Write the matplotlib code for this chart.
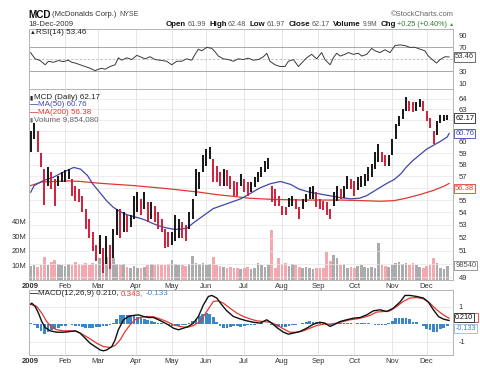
import matplotlib
matplotlib.use("Agg")
import matplotlib.pyplot as plt
from matplotlib import transforms as mtrans
from matplotlib.patches import Rectangle
from matplotlib.ticker import NullLocator

plt.rcParams['font.family'] = ['Liberation Sans', 'DejaVu Sans']

# ---------------- data ----------------
month_days = [0, 20, 39, 61, 82, 102, 124, 146, 167, 188, 210, 230]
month_labels = ["2009", "Feb", "Mar", "Apr", "May", "Jun", "Jul", "Aug", "Sep", "Oct", "Nov", "Dec"]

bar_days = list(range(0, 243, 2))
bar_high = [61.0, 61.75, 60.95, 59.0, 57.6, 57.75, 57.35, 56.75, 57.05, 57.35,
            57.5, 57.6, 56.75, 56.2, 55.9, 55.35, 54.3, 53.5, 52.45, 51.45,
            52.2, 51.2, 52.1, 51.45, 52.7, 54.3, 54.3, 54.0, 53.75, 53.75,
            55.35, 55.65, 55.1, 55.65, 54.8, 54.8, 54.55, 54.0, 53.5, 52.7,
            52.45, 52.45, 53.75, 53.5, 53.2, 52.95, 54.0, 55.1, 57.6, 57.35,
            58.8, 59.4, 59.55, 58.5, 57.9, 57.35, 57.6, 57.5, 57.05, 56.6,
            56.5, 57.2, 56.75, 56.5, 56.5, 56.9, 57.35, 57.75, 58.35, 58.55,
            56.2, 55.9, 55.35, 54.55, 54.4, 55.2, 55.35, 55.1, 54.4, 55.1,
            55.5, 56.05, 56.2, 55.65, 55.1, 54.95, 54.8, 54.3, 55.65, 56.2,
            55.9, 56.2, 57.05, 56.75, 56.6, 56.9, 57.05, 57.2, 57.75, 58.05,
            59.1, 59.85, 59.1, 58.8, 58.8, 60.3, 61.6, 62.35, 63.0, 64.15,
            63.8, 63.65, 63.65, 64.0, 63.8, 62.85, 62.2, 60.95, 61.9, 62.5,
            62.5, 62.48]
bar_low = [59.1, 60.3, 59.1, 57.8, 54.6, 56.2, 55.9, 54.55, 56.2, 56.5,
           56.5, 56.75, 55.35, 54.95, 54.8, 54.0, 52.7, 51.95, 50.95, 50.2,
           50.7, 49.3, 49.95, 49.6, 50.45, 52.2, 51.95, 52.45, 52.45, 52.85,
           53.5, 54.0, 53.75, 54.3, 53.2, 53.5, 53.2, 52.7, 52.45, 51.2,
           51.3, 51.45, 51.7, 51.95, 51.95, 51.7, 52.7, 53.5, 55.35, 55.9,
           57.35, 57.9, 58.5, 56.5, 56.5, 56.2, 56.2, 56.2, 55.9, 55.35,
           55.35, 56.2, 55.65, 55.35, 55.65, 56.05, 56.5, 56.9, 57.35, 57.6,
           54.8, 54.55, 54.55, 53.75, 53.75, 54.4, 54.55, 54.3, 53.5, 54.3,
           54.8, 55.1, 55.1, 54.4, 54.3, 54.15, 53.75, 53.5, 54.55, 54.95,
           55.1, 55.2, 55.9, 55.9, 55.35, 55.8, 56.05, 56.2, 56.6, 56.9,
           57.6, 58.2, 58.2, 57.9, 57.9, 58.8, 60.3, 61.4, 62.05, 62.85,
           62.85, 62.7, 62.85, 63.2, 62.85, 61.9, 61.25, 59.85, 60.6, 61.75,
           61.9, 61.97]
volume_m = [9.5, 10, 9, 10.5, 16, 10, 12.5, 13.5, 11, 10,
            9.5, 11, 10, 12.5, 11, 10.5, 11.5, 10, 12, 11,
            15, 12, 16, 12, 15, 11, 10.5, 11, 9, 8.5,
            9.5, 8.5, 8, 9, 10, 11, 10, 11, 10, 10.5,
            11, 14, 11, 10, 10.5, 9.5, 11, 16.5, 12, 11,
            12, 10.5, 11, 16, 10, 9.5, 9, 8.5, 9, 8,
            8.5, 7.5, 8, 9, 7.5, 8.5, 12, 10, 9, 10,
            34.5, 8.5, 15, 11, 12, 9.5, 11, 10, 9, 8.5,
            9, 8, 7.5, 8, 8.5, 8, 19, 13, 17.5, 15,
            10, 11, 8, 9, 8.5, 9.5, 10, 9, 8.5, 9,
            8.5, 25.5, 10, 9.5, 9, 10, 11.5, 12.5, 11, 12,
            10, 11.5, 10, 9, 8.5, 9.5, 10.5, 15.5, 12, 8.5,
            7.5, 9.85]

ma50_days = [0, 2, 7, 13, 19, 25, 29, 33, 36, 40, 44, 48, 52, 56, 60, 64, 67, 71, 75, 79,
             83, 87, 91, 94, 98, 102, 106, 110, 114, 118, 122, 127, 133, 139, 145, 151, 156, 162, 168, 174,
             180, 186, 191, 195, 199, 203, 207, 211, 215, 218, 222, 226, 230, 234, 238, 242, 243]
ma50_vals = [55.65, 56.2, 56.6, 56.9, 57.35, 57.75, 57.6, 57.05, 56.35, 55.65,
             54.95, 54.4, 54.05, 53.8, 53.65, 53.5, 53.35, 53.1, 52.9, 52.75,
             52.65, 52.65, 52.75, 53.1, 53.5, 53.9, 54.3, 54.5, 54.7, 54.9,
             55.1, 55.5, 56.0, 56.35, 56.55, 56.3, 55.9, 55.65, 55.5, 55.35,
             55.2, 55.1, 55.15, 55.35, 55.7, 56.05, 56.4, 56.7, 57.2, 57.75,
             58.35, 58.85, 59.35, 59.7, 60.05, 60.45, 60.76]
ma200_days = [0, 6, 22, 29, 40, 60, 79, 98, 108, 118, 127, 141, 160, 180, 193, 203, 211, 218, 226, 234, 240, 243]
ma200_vals = [56.2, 56.5, 56.6, 56.55, 56.4, 56.2, 55.95, 55.65, 55.45, 55.3, 55.15,
              55.05, 55.0, 55.0, 54.95, 54.9, 54.95, 55.15, 55.45, 55.8, 56.15, 56.38]

rsi_days = [0, 0.6, 2.6, 5.5, 8.4, 10.3, 13.2, 16.1, 19.0, 21.9, 23.9, 25.8, 28.7, 31.6, 34.5,
            37.4, 39.3, 41.3, 43.2, 46.1, 49.0, 50.9, 52.9, 55.8, 58.7, 61.6, 63.5, 66.4, 69.3,
            72.2, 75.1, 79.0, 81.9, 84.8, 87.7, 90.6, 93.5, 95.5, 97.4, 99.3, 102.3, 105.2,
            107.1, 109.0, 111.9, 114.8, 117.7, 120.6, 123.5, 126.4, 129.3, 132.3, 135.2, 137.1,
            139.0, 141.9, 144.8, 147.7, 149.7, 152.6, 155.5, 157.4, 160.3, 163.2, 166.1, 169.0,
            170.9, 173.9, 175.8, 177.7, 179.7, 182.6, 184.5, 187.4, 190.3, 192.3, 195.2, 198.1,
            200.0, 202.9, 205.8, 208.7, 211.6, 214.5, 217.4, 220.3, 223.2, 226.1, 229.0, 231.0,
            233.9, 235.8, 237.8, 240.7, 243.0]
rsi_vals = [60.7, 57.8, 50.3, 47.4, 40.4, 46.2, 44.5, 47.4, 45.7, 48.0, 44.5, 43.3, 40.4, 37.5, 34.6,
            30.6, 32.9, 34.6, 32.9, 37.5, 40.4, 52.0, 48.0, 52.0, 49.1, 56.1, 53.8, 50.3, 53.8,
            49.1, 48.0, 46.2, 40.4, 46.2, 46.2, 50.3, 48.0, 57.8, 66.5, 63.6, 69.4, 67.7,
            61.9, 54.9, 50.3, 49.1, 46.2, 50.3, 49.1, 51.4, 48.0, 49.1, 53.8, 59.6,
            46.2, 40.4, 37.5, 37.5, 46.2, 49.1, 37.5, 43.3, 52.0, 57.8, 50.3, 60.7,
            49.1, 40.4, 52.0, 59.6, 54.9, 57.8, 60.7, 57.8, 59.6, 54.9, 57.8, 67.7,
            63.6, 60.7, 65.4, 60.7, 72.3, 73.5, 72.3, 69.4, 69.4, 66.5, 63.6, 54.9,
            47.4, 43.3, 49.1, 53.8, 53.46]

macd_days = [0, 0.6, 2.6, 4.5, 6.4, 8.4, 11.3, 15.1, 19.0, 22.9, 25.8, 28.7, 31.6, 34.5, 37.4,
             40.3, 42.2, 44.2, 47.1, 49.0, 50.9, 53.9, 56.8, 59.7, 62.6, 65.5, 68.4, 71.3, 74.2,
             77.1, 80.0, 82.9, 85.8, 88.7, 91.6, 94.5, 97.4, 100.3, 103.2, 105.2, 108.1, 111.0,
             113.9, 117.7, 121.6, 125.5, 129.3, 133.2, 137.1, 140.0, 142.9, 146.8, 149.7, 152.6,
             156.4, 160.3, 164.2, 168.0, 170.9, 173.9, 176.8, 179.7, 183.5, 187.4, 191.3, 195.2,
             199.0, 202.9, 206.8, 210.6, 214.5, 217.4, 220.3, 224.2, 228.1, 231.0, 233.9, 236.8,
             239.7, 243.0]
macd_vals = [1.14, 1.2, 1.01, 0.63, 0.15, -0.19, -0.38, -0.46, -0.46, -0.42, -0.38, -0.51, -0.8, -1.09, -1.28,
             -1.47, -1.52, -1.47, -1.28, -0.9, -0.32, 0.25, 0.44, 0.5, 0.53, 0.44, 0.38, 0.38, 0.25,
             0.11, -0.04, -0.23, -0.32, -0.23, -0.13, 0.06, 0.44, 1.1, 1.58, 1.64, 1.49, 1.1,
             0.76, 0.44, 0.3, 0.19, 0.11, 0.06, 0.25, 0.06, -0.19, -0.46, -0.57, -0.51,
             -0.42, -0.23, 0.0, 0.11, 0.06, -0.13, 0.0, 0.15, 0.25, 0.34, 0.38, 0.53,
             0.76, 0.82, 0.72, 0.91, 1.26, 1.64, 1.64, 1.58, 1.49, 1.26, 0.82, 0.44,
             0.29, 0.21]
signal_days = [0, 3.5, 6.4, 9.3, 12.2, 15.1, 19.0, 22.9, 26.8, 30.6, 34.5, 38.4, 42.2, 46.1, 49.0,
               51.9, 54.8, 57.7, 60.6, 63.5, 67.4, 71.3, 75.1, 79.0, 82.9, 86.8, 90.6, 94.5, 98.4,
               102.2, 106.1, 109.0, 111.9, 115.8, 119.7, 123.5, 127.4, 131.3, 135.2, 139.0, 142.9,
               146.8, 150.6, 154.5, 158.4, 162.2, 166.1, 170.0, 173.9, 177.7, 181.6, 185.5, 189.3,
               193.2, 197.1, 201.0, 204.8, 208.7, 212.6, 216.4, 220.3, 224.2, 228.1, 231.9, 235.8,
               239.7, 243.0]
signal_vals = [1.13, 1.01, 0.63, 0.15, -0.19, -0.32, -0.38, -0.38, -0.42, -0.61, -0.84, -1.09, -1.28, -1.33, -1.22,
               -0.9, -0.42, -0.04, 0.25, 0.38, 0.44, 0.42, 0.3, 0.15, -0.04, -0.13, -0.19, -0.08, 0.15,
               0.72, 1.3, 1.33, 1.2, 0.91, 0.63, 0.44, 0.3, 0.19, 0.15, 0.11, -0.04,
               -0.27, -0.46, -0.46, -0.38, -0.23, -0.08, 0.0, 0.0, 0.06, 0.15, 0.25, 0.3,
               0.38, 0.5, 0.69, 0.72, 0.76, 1.01, 1.3, 1.49, 1.52, 1.45, 1.2, 0.82,
               0.53, 0.343]
hist_vals = [0.05, -0.05, -0.2, -0.4, -0.55, -0.45, -0.35, -0.25, -0.2, -0.12,
             -0.08, 0.0, -0.02, -0.08, -0.12, -0.15, -0.2, -0.22, -0.2, -0.18,
             -0.15, -0.12, -0.08, -0.03, 0.05, 0.3, 0.5, 0.55, 0.55, 0.5,
             0.45, 0.42, 0.35, 0.3, 0.25, 0.2, 0.12, 0.08, 0.05, 0.0,
             -0.05, -0.1, -0.12, -0.08, -0.03, -0.02, 0.05, 0.2, 0.3, 0.45,
             0.6, 0.65, 0.6, 0.4, 0.15, -0.1, -0.2, -0.2, -0.15, -0.1,
             -0.12, -0.15, -0.08, -0.05, -0.05, -0.02, 0.0, 0.05, 0.03, 0.02,
             -0.05, -0.1, -0.15, -0.18, -0.15, -0.1, -0.05, -0.02, 0.0, 0.08,
             0.15, 0.18, 0.15, 0.1, 0.1, 0.05, -0.02, -0.05, 0.05, 0.08,
             0.05, 0.05, 0.05, 0.05, 0.03, 0.05, 0.05, 0.08, 0.05, 0.0,
             -0.02, -0.03, -0.05, -0.03, 0.05, 0.2, 0.35, 0.38, 0.38, 0.38,
             0.3, 0.15, 0.1, 0.0, -0.12, -0.25, -0.35, -0.45, -0.42, -0.3,
             -0.2, -0.133]

price_labels = [49, 51, 52, 53, 54, 55, 57, 58, 59, 60, 63, 64]
price_grid = list(range(49, 65))
rsi_labels = [10, 30, 70, 90]
vol_labels = [10, 20, 30, 40]

# ---------------- layout ----------------
W, H = 480, 377
fig = plt.figure(figsize=(4.8, 3.77), dpi=100)
fig.patch.set_facecolor('white')


def fx(x):
    return x / W


def fy(y):
    return 1 - y / H


def rect(x0, y0, x1, y1):
    return [x0 / W, 1 - y1 / H, (x1 - x0) / W, (y1 - y0) / H]


L, R = 29, 453
XLIM = (-1.0, 245.3)
GRID = '#e3e3e3'
SPINE = '#b4b4b4'
TXT = '#333333'
RED = '#cf1f3c'
PINK = '#f2a8ae'
GRAY = '#ababab'
BLUE = '#4048a8'
MA_RED = '#e0392f'
HBLUE = '#3a86c6'
LS = 5.5

ax_r = fig.add_axes(rect(L, 29, R, 89))
ax_v = fig.add_axes(rect(L, 89, R, 280))
ax_p = fig.add_axes(rect(L, 89, R, 280))
ax_m = fig.add_axes(rect(L, 290, R, 355))
ax_v.set_zorder(0)
ax_p.set_zorder(1)
ax_p.patch.set_visible(False)

for ax in (ax_r, ax_p, ax_m):
    for s in ax.spines.values():
        s.set_color(SPINE)
        s.set_linewidth(0.7)
for s in ax_v.spines.values():
    s.set_visible(False)

for ax in (ax_r, ax_v, ax_m):
    for d in month_days[1:]:
        ax.axvline(d, color=GRID, lw=0.6, zorder=0)

# ---------------- RSI ----------------
ax_r.set_xlim(*XLIM)
ax_r.set_ylim(0, 100)
ax_r.axhline(70, color='#9a9a9a', lw=0.6, zorder=1)
ax_r.axhline(30, color='#9a9a9a', lw=0.6, zorder=1)
ax_r.axhline(50, color='#b8b8b8', lw=0.6, ls=(0, (3, 2)), zorder=1)
ax_r.plot(rsi_days, rsi_vals, color='#3a3a3a', lw=0.7, zorder=3)
ax_r.set_xticks([])
ax_r.yaxis.tick_right()
ax_r.set_yticks(rsi_labels)
ax_r.set_yticklabels([str(v) for v in rsi_labels])
ax_r.tick_params(axis='y', length=0, pad=4, labelsize=LS, labelcolor=TXT)


def box(ax, yval, text, ec, tc, dy=0.0, size=LS):
    tr = mtrans.blended_transform_factory(ax.transAxes, ax.transData)
    ax.annotate(text, xy=(1.0, yval), xycoords=tr, xytext=(1.6, dy), textcoords='offset points',
                ha='left', va='center', fontsize=size, color=tc, annotation_clip=False, zorder=10,
                bbox=dict(boxstyle='square,pad=0.15', fc='white', ec=ec, lw=0.6))


box(ax_r, 53.46, "53.46", '#555555', TXT)

# ---------------- volume ----------------
mids = [(h + l) / 2 for h, l in zip(bar_high, bar_low)]
up = [True] + [mids[i] >= mids[i - 1] for i in range(1, len(mids))]
bar_colors = ['#151515' if u else RED for u in up]
vol_colors = [GRAY if u else PINK for u in up]

ax_v.set_xlim(*XLIM)
ax_v.set_ylim(0, 131.7)
ax_v.bar(bar_days, volume_m, width=1.55, color=vol_colors, linewidth=0, zorder=2)
ax_v.set_xticks([])
ax_v.set_yticks(vol_labels)
ax_v.set_yticklabels([f"{v}M" for v in vol_labels])
ax_v.tick_params(axis='y', length=0, pad=2, labelsize=LS, labelcolor=TXT)

# ---------------- price ----------------
ax_p.set_yscale('log')
ax_p.set_xlim(*XLIM)
ax_p.set_ylim(48.8, 64.94)
for v in price_grid:
    ax_p.axhline(v, color='#e6e6e6', lw=0.5, zorder=0)
ax_p.plot(ma200_days, ma200_vals, color=MA_RED, lw=0.9, zorder=2)
ax_p.plot(ma50_days, ma50_vals, color=BLUE, lw=0.9, zorder=2)
ax_p.vlines(bar_days, bar_low, bar_high, colors=bar_colors, linewidth=1.4, zorder=3)
ax_p.yaxis.set_minor_locator(NullLocator())
ax_p.yaxis.tick_right()
ax_p.set_yticks(price_labels)
ax_p.set_yticklabels([str(v) for v in price_labels])
ax_p.yaxis.set_minor_formatter(plt.NullFormatter())
ax_p.tick_params(axis='y', which='both', length=0, pad=4, labelsize=LS, labelcolor=TXT)
ax_p.set_xticks(month_days)
ax_p.set_xticklabels(month_labels)
ax_p.tick_params(axis='x', length=0, pad=2.5, labelsize=LS, labelcolor=TXT)
ax_p.get_xticklabels()[0].set_fontweight('bold')

box(ax_p, 62.17, "62.17", '#222222', '#111111')
box(ax_p, 60.76, "60.76", BLUE, BLUE)
box(ax_p, 56.38, "56.38", MA_RED, MA_RED, dy=-3.5)
box(ax_v, 9.854, "98540", '#888888', '#555555')

# ---------------- MACD ----------------
ax_m.set_xlim(*XLIM)
ax_m.set_ylim(-1.76, 1.95)
for v in (1, -1):
    ax_m.axhline(v, color=GRID, lw=0.5, zorder=0)
ax_m.bar(bar_days, hist_vals, width=1.6, color=HBLUE, linewidth=0, zorder=2)
ax_m.plot(signal_days, signal_vals, color=MA_RED, lw=0.9, zorder=3)
ax_m.plot(macd_days, macd_vals, color='#111111', lw=1.0, zorder=4)
ax_m.yaxis.tick_right()
ax_m.set_yticks([1, -1])
ax_m.set_yticklabels(["1", "-1"])
ax_m.tick_params(axis='y', length=0, pad=4, labelsize=LS, labelcolor=TXT)
ax_m.set_xticks(month_days)
ax_m.set_xticklabels(month_labels)
ax_m.tick_params(axis='x', length=0, pad=2.5, labelsize=LS, labelcolor=TXT)
ax_m.get_xticklabels()[0].set_fontweight('bold')

# signal-value box (red) sits behind the MACD-value box, only its edge shows
mtr = mtrans.blended_transform_factory(ax_m.transAxes, ax_m.transData)
ax_m.add_patch(Rectangle((1.0 + 1.5 / 424, 0.343 - 0.2), 23 / 424, 0.52, transform=mtr,
                         fc='white', ec=MA_RED, lw=0.6, clip_on=False, zorder=9))
box(ax_m, 0.210, "0.210", '#222222', '#111111', dy=2.0, size=5.2)
box(ax_m, -0.133, "-0.133", '#8fb8e0', HBLUE, dy=-1.5, size=5.2)

# ---------------- texts ----------------
renderer = fig.canvas.get_renderer()


def runs_text(runs, x, y, ha='left'):
    items = []
    for s, w, c, sz, gap in runs:
        t = fig.text(0, fy(y), s, fontsize=sz, fontweight=w, color=c, va='center', ha='left')
        wd = t.get_window_extent(renderer=renderer).width
        items.append((t, wd, gap))
    total = sum(wd + g for _, wd, g in items) - items[-1][2]
    cur = x - total if ha == 'right' else x
    for t, wd, g in items:
        t.set_x(fx(cur))
        cur += wd + g


runs_text([("MCD", 'bold', '#111111', 7.2, 2.0),
           ("(McDonalds Corp.)", 'normal', '#333333', 5.5, 2.5),
           ("NYSE", 'normal', '#444444', 5.0, 0)], 28, 14.5)
fig.text(fx(28), fy(24), "18-Dec-2009", fontsize=5.6, color=TXT, va='center', ha='left')
fig.text(fx(454), fy(14.5), "\u00a9StockCharts.com", fontsize=5.4, color='#666666', va='center', ha='right')
runs_text([("Open", 'bold', '#111111', 5.7, 1.3), ("61.99", 'normal', '#555555', 5.2, 3.5),
           ("High", 'bold', '#111111', 5.7, 1.3), ("62.48", 'normal', '#555555', 5.2, 3.5),
           ("Low", 'bold', '#111111', 5.7, 1.3), ("61.97", 'normal', '#555555', 5.2, 3.5),
           ("Close", 'bold', '#111111', 5.7, 1.3), ("62.17", 'normal', '#555555', 5.2, 3.5),
           ("Volume", 'bold', '#111111', 5.7, 1.3), ("9.9M", 'normal', '#555555', 4.8, 3.5),
           ("Chg", 'bold', '#111111', 5.7, 1.3), ("+0.25 (+0.40%)", 'normal', '#2a7a2a', 5.2, 1.5),
           ("\u25b2", 'normal', '#2a9a2a', 3.8, 0)], 454, 24.5, ha='right')

runs_text([("\u25b2", 'normal', '#222222', 4.2, 1.0),
           ("RSI(14) 53.46", 'normal', '#222222', 5.8, 0)], 29.5, 32)

runs_text([("\u25ae", 'normal', '#222222', 4.2, 1.0),
           ("MCD (Daily) 62.17", 'normal', '#222222', 5.8, 0)], 29.5, 97.5)
runs_text([("\u2014", 'bold', BLUE, 5.8, 0.5),
           ("MA(50) 60.76", 'normal', BLUE, 5.8, 0)], 29.5, 105)
runs_text([("\u2014", 'bold', MA_RED, 5.8, 0.5),
           ("MA(200) 56.38", 'normal', MA_RED, 5.8, 0)], 29.5, 112.5)
runs_text([("\u25ae", 'normal', '#777777', 4.2, 1.0),
           ("Volume 9,854,080", 'normal', '#666666', 5.8, 0)], 29.5, 120)

runs_text([("\u2014", 'bold', '#111111', 5.8, 1.0),
           ("MACD(12,26,9) 0.210,", 'normal', '#222222', 5.8, 2),
           ("0.343,", 'normal', MA_RED, 5.8, 2),
           ("-0.133", 'normal', HBLUE, 5.8, 0)], 29.5, 293.5)

fig.savefig("out.png", dpi=100, facecolor='white')
